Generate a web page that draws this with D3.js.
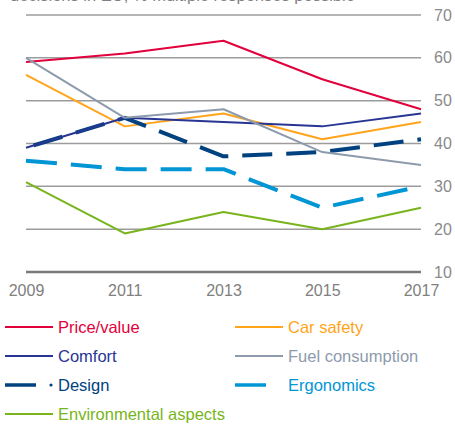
<!DOCTYPE html>
<html>
<head>
<meta charset="utf-8">
<script src="https://cdn.jsdelivr.net/npm/d3@7"></script>
<style>
  body { margin: 0; background: #fff; }
  svg { font-family: "Liberation Sans", Arial, sans-serif; }
</style>
</head>
<body>
<div id="chart"></div>
<script>
// Values (percent)
var years = [2009, 2011, 2013, 2015, 2017];
var yTicks = [10, 20, 30, 40, 50, 60, 70];
var priceValue = [59, 61, 64, 55, 48];
var carSafety = [56, 44, 47, 41, 45];
var comfort = [39, 46, 45, 44, 47];
var fuelConsumption = [60, 46, 48, 38, 35];
var design = [39, 46, 37, 38, 41];
var ergonomics = [36, 34, 34, 25, 30];
var environmental = [31, 19, 24, 20, 25];

var series = [
    {name: "Price/value", values: priceValue, color: "#e2003c", width: 2, dash: null, col: 0, row: 0},
    {name: "Car safety", values: carSafety, color: "#ffa41b", width: 2, dash: null, col: 1, row: 0},
    {name: "Design", values: design, color: "#00427f", width: 4, dash: "30,14", offset: -8, col: 0, row: 2},
    {name: "Comfort", values: comfort, color: "#283593", width: 2, dash: null, col: 0, row: 1},
    {name: "Fuel consumption", values: fuelConsumption, color: "#8d9bad", width: 2, dash: null, col: 1, row: 1},
    {name: "Ergonomics", values: ergonomics, color: "#0096d6", width: 4, dash: "31,14", offset: 0, col: 1, row: 2},
    {name: "Environmental aspects", values: environmental, color: "#78b41c", width: 2, dash: null, col: 0, row: 3}
];

var W = 455, H = 428;
var plotLeft = 26, plotRight = 421, plotTop = 15, plotBottom = 272;

var svg = d3.select("#chart").append("svg")
    .attr("width", W)
    .attr("height", H);

var x = d3.scalePoint().domain(years).range([plotLeft, plotRight]);
var y = d3.scaleLinear().domain([10, 70]).range([plotBottom, plotTop]);

// Subtitle, cut off at the top edge as in the source
svg.append("text")
    .attr("x", 10)
    .attr("y", 1)
    .attr("fill", "#7f7f7f")
    .style("font-size", "16.5px")
    .text("decisions in EU, % multiple responses possible");

// Gridlines
svg.append("g").selectAll("line")
    .data(yTicks)
    .join("line")
    .attr("x1", plotLeft)
    .attr("x2", plotRight)
    .attr("y1", function(d) { return y(d); })
    .attr("y2", function(d) { return y(d); })
    .attr("stroke", function(d) { return d === 10 ? "#7a7a7a" : "#9c9c9c"; })
    .attr("stroke-width", function(d) { return d === 10 ? 2.5 : 1.5; });

// Y axis on the right
var yAxis = d3.axisRight(y).tickValues(yTicks).tickSize(0).tickPadding(0);
var gy = svg.append("g")
    .attr("transform", "translate(434,0)")
    .call(yAxis);
gy.select(".domain").remove();
gy.selectAll("text")
    .attr("fill", "#8a8a8a")
    .style("font-size", "16px")
    .style("font-family", "Liberation Sans, Arial, sans-serif");

// X axis
var xAxis = d3.axisBottom(x).tickSize(0).tickPadding(0).tickFormat(d3.format("d"));
var gx = svg.append("g")
    .attr("transform", "translate(0,285)")
    .call(xAxis);
gx.select(".domain").remove();
gx.selectAll("text")
    .attr("fill", "#808080")
    .style("font-size", "16px")
    .style("font-family", "Liberation Sans, Arial, sans-serif");

// Lines
var line = d3.line()
    .x(function(d, i) { return x(years[i]); })
    .y(function(d) { return y(d); });

svg.append("g").selectAll("path")
    .data(series)
    .join("path")
    .attr("d", function(s) { return line(s.values); })
    .attr("fill", "none")
    .attr("stroke", function(s) { return s.color; })
    .attr("stroke-width", function(s) { return s.width; })
    .attr("stroke-dasharray", function(s) { return s.dash; })
    .attr("stroke-dashoffset", function(s) { return s.offset || 0; })
    .attr("stroke-linejoin", "round");

// Legend
var colX = [5, 235], rowY = [327, 356, 385, 414];
var lg = svg.append("g").selectAll("g")
    .data(series)
    .join("g")
    .attr("transform", function(s) { return "translate(" + colX[s.col] + "," + rowY[s.row] + ")"; });

lg.append("line")
    .attr("x1", 0)
    .attr("x2", function(s) { return s.dash ? 31 : 48; })
    .attr("y1", 0)
    .attr("y2", 0)
    .attr("stroke", function(s) { return s.color; })
    .attr("stroke-width", function(s) { return s.width === 4 ? 3.5 : 2; });

lg.filter(function(s) { return s.name === "Design"; })
    .append("circle")
    .attr("cx", 46)
    .attr("cy", 0)
    .attr("r", 1.6)
    .attr("fill", function(s) { return s.color; });

lg.append("text")
    .attr("x", 53)
    .attr("y", 6)
    .attr("fill", function(s) { return s.color; })
    .style("font-size", "16.5px")
    .text(function(s) { return s.name; });
</script>
</body>
</html>
